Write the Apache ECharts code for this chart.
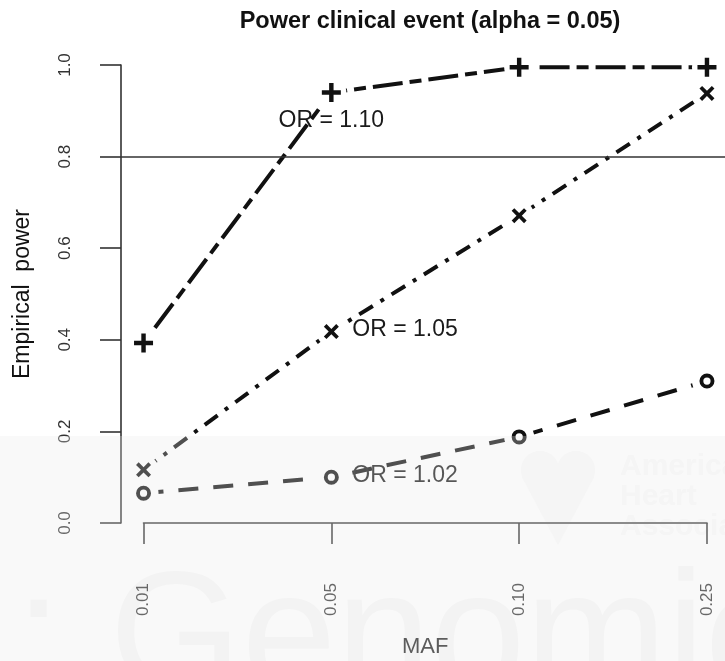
<!DOCTYPE html>
<html>
<head>
<meta charset="utf-8">
<title>Power clinical event</title>
<script src="https://cdn.jsdelivr.net/npm/echarts@6/dist/echarts.min.js"></script>
<style>
  html, body { margin: 0; padding: 0; background: #fff; }
  #main { width: 725px; height: 661px; }
</style>
</head>
<body>
<div id="main"></div>
<script>
'use strict';

// x categories (minor allele frequency)
const mafLabels = ['0.01', '0.05', '0.10', '0.25'];

// empirical power per odds ratio
const power110 = [0.393, 0.940, 0.995, 0.995];
const power105 = [0.116, 0.418, 0.671, 0.938];
const power102 = [0.065, 0.100, 0.188, 0.310];

const orLabels = ['OR = 1.10', 'OR = 1.05', 'OR = 1.02'];
const labelAt = 1;          // the curves are labelled at MAF 0.05
const powerTarget = 0.8;    // horizontal reference line

const FONT = 'Liberation Sans, Arial, Helvetica, sans-serif';
const INK = '#111';

// R style 4% padding around the data range
const xPad = (mafLabels.length - 1) * 0.04;
const yPad = 0.04;

// pch 3, 4 and 1 as filled paths
const plusPath = 'path://M4.6,0H7.4V4.6H12V7.4H7.4V12H4.6V7.4H0V4.6H4.6Z';
const crossPath = 'path://M0,2.1L2.1,0L6,3.9L9.9,0L12,2.1L8.1,6L12,9.9L9.9,12L6,8.1L2.1,12L0,9.9L3.9,6Z';
const ringPath = 'path://M0,6A6,6 0 1,1 12,6A6,6 0 1,1 0,6ZM3.1,6A2.9,2.9 0 1,0 8.9,6A2.9,2.9 0 1,0 3.1,6Z';

function toPoints(values) {
	return values.map(function(v, i) { return [i, v]; });
}

// one curve = dashed line + white gap round the points (type = "b") + marker
function curve(values, dash, marker, label, labelStyle) {
	const pts = toPoints(values);
	const line = {
		type: 'line',
		xAxisIndex: 0, yAxisIndex: 0,
		data: pts,
		symbol: 'none',
		lineStyle: { color: INK, width: 4, type: dash, cap: 'butt' },
		z: 2,
		silent: true
	};
	const gap = {
		type: 'scatter',
		xAxisIndex: 0, yAxisIndex: 0,
		data: pts,
		symbol: 'circle',
		symbolSize: 30,
		itemStyle: { color: '#fff', opacity: 1 },
		z: 3,
		silent: true
	};
	const marks = {
		type: 'scatter',
		xAxisIndex: 0, yAxisIndex: 0,
		data: pts.map(function(p, i) {
			if (i !== labelAt) return p;
			return {
				value: p,
				label: Object.assign({
					show: true,
					formatter: label,
					position: 'inside',
					fontFamily: FONT,
					fontSize: 23,
					color: '#1a1a1a'
				}, labelStyle)
			};
		}),
		symbol: marker.symbol,
		symbolSize: marker.size,
		itemStyle: { color: INK, opacity: 1 },
		z: 4,
		silent: true
	};
	return [line, gap, marks];
}

const chart = echarts.init(document.getElementById('main'), null, { renderer: 'canvas' });

let series = [];
series = series.concat(curve(power110, [12, 7, 30, 7],
	{ symbol: plusPath, size: 19 },
	orLabels[0], { offset: [0, 28] }));
series = series.concat(curve(power105, [16, 9, 4, 9],
	{ symbol: crossPath, size: 15 },
	orLabels[1], { align: 'left', offset: [21, -1.5] }));
series = series.concat(curve(power102, [20, 15],
	{ symbol: ringPath, size: 15 },
	orLabels[2], { align: 'left', offset: [21, -1.5] }));

// reference line across the whole plot region
series[0].markLine = {
	silent: true,
	symbol: 'none',
	label: { show: false },
	lineStyle: { color: '#333', width: 1.5, type: 'solid' },
	data: [{ yAxis: powerTarget }]
};

const axisLineStyle = { color: '#333', width: 1.6 };
const faint = '#f9f9f9';

const option = {
	backgroundColor: '#fff',
	animation: false,
	title: {
		text: 'Power clinical event (alpha = 0.05)',
		left: 425,
		top: 5,
		textAlign: 'center',
		textStyle: { fontFamily: FONT, fontSize: 23.5, fontWeight: 'bold', color: INK }
	},
	grid: [
		// plot region (data)
		{ left: 121, top: 46.7, width: 608.5, height: 494.6, outerBoundsMode: 'none', containLabel: false },
		// span of the ticks (axes)
		{ left: 143.5, top: 65, width: 563.5, height: 458, outerBoundsMode: 'none', containLabel: false }
	],
	xAxis: [
		{ gridIndex: 0, type: 'value', min: -xPad, max: mafLabels.length - 1 + xPad, show: false },
		{
			gridIndex: 1,
			type: 'category',
			data: mafLabels,
			boundaryGap: false,
			position: 'bottom',
			offset: 18,
			axisLine: { show: true, lineStyle: axisLineStyle },
			axisTick: { show: true, length: 21, lineStyle: axisLineStyle },
			axisLabel: { rotate: 90, margin: 42, fontFamily: FONT, fontSize: 17, color: '#333', interval: 0 },
			splitLine: { show: false },
			name: 'MAF',
			nameLocation: 'middle',
			nameGap: 95,
			nameTextStyle: { fontFamily: FONT, fontSize: 22, color: '#222' }
		}
	],
	yAxis: [
		{ gridIndex: 0, type: 'value', min: -yPad, max: 1 + yPad, show: false },
		{
			gridIndex: 1,
			type: 'value',
			min: 0,
			max: 1,
			interval: 0.2,
			position: 'left',
			offset: 22.5,
			axisLine: { show: true, lineStyle: axisLineStyle },
			axisTick: { show: true, length: 21, lineStyle: axisLineStyle },
			axisLabel: {
				rotate: 90, margin: 47, fontFamily: FONT, fontSize: 17, color: '#333',
				showMinLabel: true, showMaxLabel: true,
				formatter: function(v) { return v.toFixed(1); }
			},
			splitLine: { show: false },
			name: 'Empirical  power',
			nameLocation: 'middle',
			nameGap: 87,
			nameTextStyle: { fontFamily: FONT, fontSize: 23, color: '#111' }
		}
	],
	graphic: [
		// faint journal watermark
		{
			type: 'text', z: 0, silent: true,
			style: { text: ': Genomics', x: 15, y: 643, fill: '#f7f7f7', font: '170px ' + FONT, verticalAlign: 'middle' }
		},
		{ type: 'circle', z: 0, silent: true, shape: { cx: 540, cy: 470, r: 19 }, style: { fill: faint } },
		{ type: 'circle', z: 0, silent: true, shape: { cx: 576, cy: 470, r: 19 }, style: { fill: faint } },
		{
			type: 'polygon', z: 0, silent: true,
			shape: { points: [[522, 477], [594, 477], [558, 545]] },
			style: { fill: faint }
		},
		{
			type: 'text', z: 0, silent: true,
			style: { text: 'American\nHeart\nAssociation', x: 620, y: 452, fill: faint, font: 'bold 30px ' + FONT, lineHeight: 30 }
		},
		// translucent band over the lower part
		{
			type: 'rect', z: 100, silent: true,
			shape: { x: 0, y: 436, width: 725, height: 225 },
			style: { fill: 'rgba(234,234,234,0.29)' }
		}
	],
	series: series
};

chart.setOption(option);
</script>
</body>
</html>
